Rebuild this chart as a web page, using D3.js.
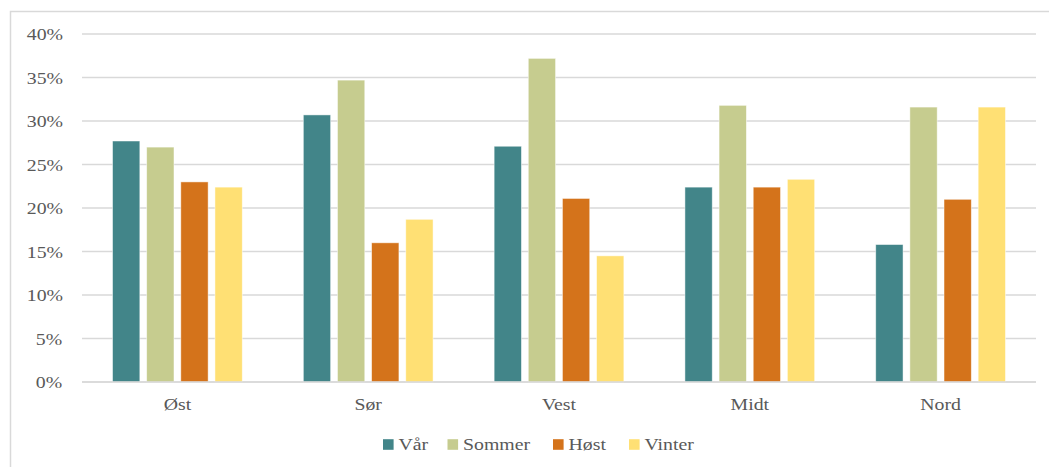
<!DOCTYPE html>
<html>
<head>
<meta charset="utf-8">
<script src="https://cdn.jsdelivr.net/npm/d3@7"></script>
<style>
  html, body { margin: 0; padding: 0; background: #fff; }
  svg text {
    font-family: "Liberation Serif", "Times New Roman", serif;
    fill: #595959;
    transform-box: fill-box;
    transform-origin: center;
    transform: scaleX(1.2);
  }
  svg .legend text { transform-origin: left center; }
</style>
</head>
<body>
<svg id="chart" width="1049" height="467"></svg>
<script>
// Regions and seasons
const regions = ["Øst", "Sør", "Vest", "Midt", "Nord"];
const seasons = ["Vår", "Sommer", "Høst", "Vinter"];

// Share per season for each region (%)
const var_ = [27.7, 30.7, 27.1, 22.4, 15.8];
const sommer = [27.0, 34.7, 37.2, 31.8, 31.6];
const host = [23.0, 16.0, 21.1, 22.4, 21.0];
const vinter = [22.4, 18.7, 14.5, 23.3, 31.6];

const yTicks = [0, 5, 10, 15, 20, 25, 30, 35, 40];
const colors = ["#428589", "#c6cc8f", "#d4731b", "#ffe074"];

const seriesValues = [var_, sommer, host, vinter];
const rows = regions.map((r, i) => ({
  region: r,
  values: seasons.map((s, j) => ({ season: s, value: seriesValues[j][i] }))
}));

const svg = d3.select("#chart");
const margin = { left: 82, right: 13, top: 34, bottom: 85 };
const W = 1049, H = 467;

// Outer frame
svg.append("path")
  .attr("d", `M10.5,${H} V11.5 H${W}`)
  .attr("fill", "none")
  .attr("stroke", "#d9d9d9")
  .attr("stroke-width", 1.5);

const x0 = d3.scaleBand()
  .domain(regions)
  .range([margin.left, W - margin.right])
  .paddingInner(0.32)
  .paddingOuter(0.16);

const x1 = d3.scaleBand()
  .domain(seasons)
  .range([0, x0.bandwidth()])
  .paddingInner(0.2);

const y = d3.scaleLinear()
  .domain([0, 40])
  .range([H - margin.bottom, margin.top]);

// Gridlines
svg.append("g")
  .selectAll("line")
  .data(yTicks)
  .join("line")
  .attr("x1", margin.left)
  .attr("x2", W - margin.right)
  .attr("y1", d => y(d))
  .attr("y2", d => y(d))
  .attr("stroke", "#d9d9d9")
  .attr("stroke-width", 1.5);

// Y axis labels
const yAxis = d3.axisLeft(y)
  .tickValues(yTicks)
  .tickFormat(d => d + "%")
  .tickSize(0)
  .tickPadding(22);
const yg = svg.append("g")
  .attr("transform", `translate(${margin.left},0)`)
  .call(yAxis);
yg.select(".domain").remove();
yg.selectAll("text").style("font-size", "16.5px").attr("dy", "0.35em");

// Bars
svg.append("g")
  .selectAll("g")
  .data(rows)
  .join("g")
  .attr("transform", d => `translate(${x0(d.region)},0)`)
  .selectAll("rect")
  .data(d => d.values)
  .join("rect")
  .attr("x", d => x1(d.season))
  .attr("width", x1.bandwidth())
  .attr("y", d => y(d.value))
  .attr("height", d => y(0) - y(d.value))
  .attr("fill", (d, j) => colors[j])
  .attr("stroke", "#fff")
  .attr("stroke-opacity", 0.6)
  .attr("stroke-width", 0.8);

// Baseline
svg.append("line")
  .attr("x1", margin.left)
  .attr("x2", W - margin.right)
  .attr("y1", y(0))
  .attr("y2", y(0))
  .attr("stroke", "#d9d9d9")
  .attr("stroke-width", 1.5);

// X axis labels
const xAxis = d3.axisBottom(x0).tickSize(0).tickPadding(16);
const xg = svg.append("g")
  .attr("transform", `translate(0,${y(0)})`)
  .call(xAxis);
xg.select(".domain").remove();
xg.selectAll("text").style("font-size", "16.5px");

// Legend
const legendX = [383, 447.5, 553, 629];
const legend = svg.append("g")
  .attr("class", "legend")
  .attr("transform", "translate(0,444.5)");
const items = legend.selectAll("g")
  .data(seasons)
  .join("g")
  .attr("transform", (d, i) => `translate(${legendX[i]},0)`);
items.append("rect")
  .attr("x", 0)
  .attr("y", -5.3)
  .attr("width", 10.6)
  .attr("height", 10.6)
  .attr("fill", (d, i) => colors[i]);
items.append("text")
  .attr("x", 15.5)
  .attr("y", 0)
  .attr("dy", "0.33em")
  .style("font-size", "16.5px")
  .text(d => d);
</script>
</body>
</html>
